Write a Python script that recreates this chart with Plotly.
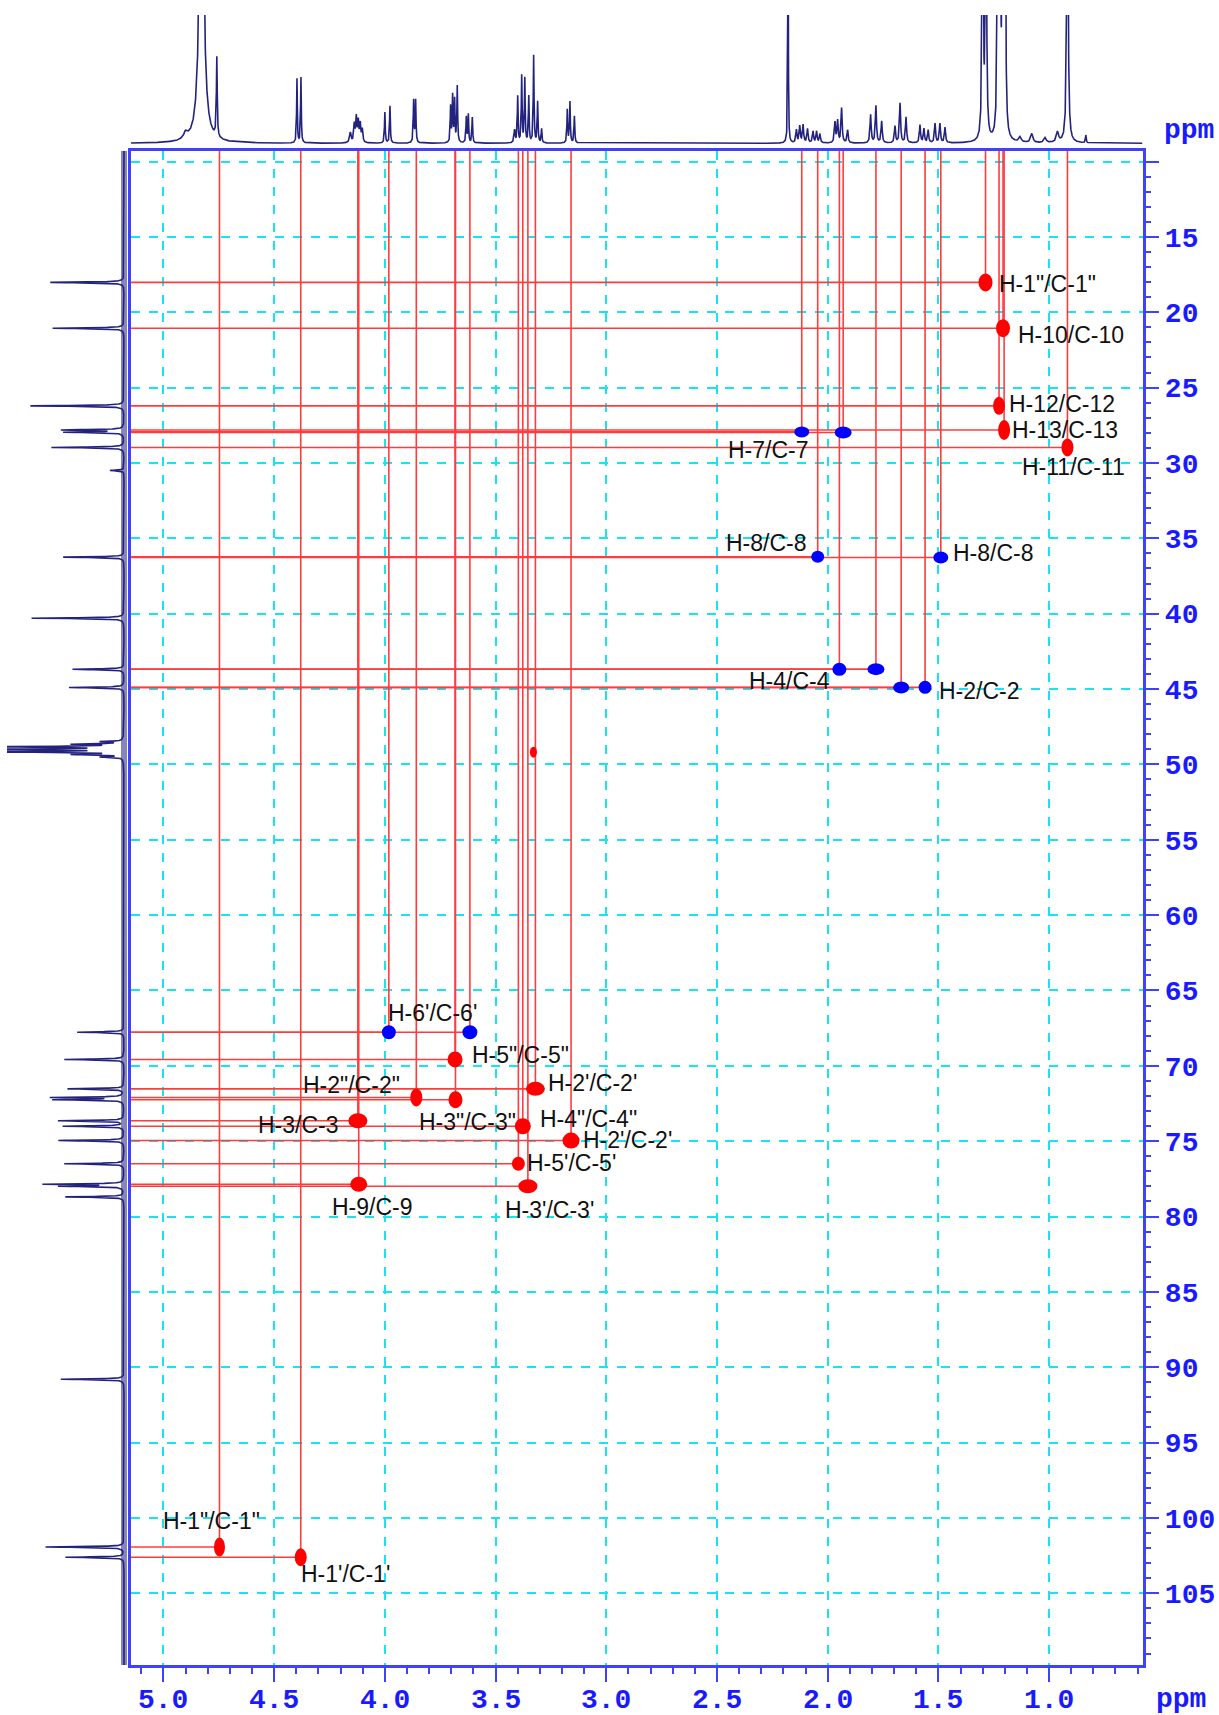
import numpy as np
import plotly.graph_objects as go

# ---------------------------------------------------------------------------
# Spectral windows (ppm)
# ---------------------------------------------------------------------------
H_RANGE = [5.148, 0.578]     # F2, 1H
C_RANGE = [109.76, 9.28]     # F1, 13C

# ---------------------------------------------------------------------------
# 1H projection (top trace): shift, relative height, half width
# ---------------------------------------------------------------------------
h1_shift = [4.900, 4.828, 4.759, 4.397, 4.379,
            4.156, 4.138, 4.129, 4.120, 4.111, 4.102,
            4.000, 3.977, 3.870, 3.861,
            3.703, 3.694, 3.685, 3.673, 3.632, 3.623, 3.605,
            3.414, 3.400, 3.382, 3.368, 3.350, 3.328, 3.310, 3.292,
            3.176, 3.164, 3.144,
            2.179, 2.141, 2.126, 2.111, 2.091, 2.066, 2.050, 2.035,
            1.967, 1.955, 1.937, 1.910,
            1.806, 1.782, 1.756,
            1.696, 1.673, 1.646,
            1.583, 1.565, 1.546, 1.515, 1.493, 1.470,
            1.300, 1.285, 1.232, 1.222, 1.209, 1.199,
            1.131, 1.078, 1.018, 0.962, 0.917, 0.834]
h1_height = [0.05, 3.0, 0.62, 0.50, 0.51,
             0.08, 0.14, 0.19, 0.16, 0.14, 0.10,
             0.24, 0.29, 0.33, 0.33,
             0.28, 0.36, 0.33, 0.44, 0.20, 0.22, 0.20,
             0.10, 0.36, 0.52, 0.50, 0.36, 0.68, 0.32, 0.11,
             0.26, 0.32, 0.21,
             2.5, 0.10, 0.13, 0.14, 0.11, 0.09, 0.09, 0.07,
             0.16, 0.17, 0.27, 0.10,
             0.22, 0.29, 0.17,
             0.13, 0.31, 0.20,
             0.14, 0.11, 0.10, 0.15, 0.15, 0.12,
             3.0, 3.0, 2.5, 3.0, 3.0, 3.0,
             0.04, 0.07, 0.04, 0.08, 3.0, 0.06]
h1_hwhm = [0.010, 0.0097, 0.0022, 0.0018, 0.0018,
           0.004, 0.003, 0.003, 0.003, 0.003, 0.003,
           0.002, 0.002, 0.002, 0.002,
           0.002, 0.002, 0.002, 0.002, 0.002, 0.002, 0.002,
           0.003, 0.002, 0.002, 0.002, 0.002, 0.002, 0.002, 0.002,
           0.002, 0.002, 0.002,
           0.0012, 0.003, 0.003, 0.003, 0.003, 0.003, 0.003, 0.003,
           0.003, 0.003, 0.003, 0.003,
           0.003, 0.003, 0.003,
           0.003, 0.003, 0.003,
           0.003, 0.003, 0.003, 0.003, 0.003, 0.003,
           0.0025, 0.0025, 0.0025, 0.0025, 0.0025, 0.0025,
           0.006, 0.006, 0.006, 0.006, 0.003, 0.002]

# ---------------------------------------------------------------------------
# 13C projection (left trace): shift, relative height
# ---------------------------------------------------------------------------
c13_shift = [18.02, 21.06, 26.21, 27.81, 27.96, 28.97, 30.5, 36.25, 40.3,
             43.69, 44.90,
             48.49, 48.66, 48.83, 49.00, 49.17, 49.34, 49.51,
             67.77, 69.58, 71.53, 72.10, 72.25, 73.65, 74.01, 74.96, 76.50,
             77.86, 77.99, 78.70, 90.80, 101.93, 102.61]
c13_height = [0.63, 0.61, 0.80, 0.52, 0.50, 0.62, 0.12, 0.52, 0.79,
              0.44, 0.47,
              0.18, 0.40, 1.20, 1.40, 1.20, 0.40, 0.18,
              0.40, 0.51, 0.48, 0.61, 0.59, 0.56, 0.52, 0.56, 0.51,
              0.67, 0.53, 0.50, 0.54, 0.67, 0.50]

# ---------------------------------------------------------------------------
# HSQC cross peaks (1H ppm, 13C ppm)
# ---------------------------------------------------------------------------
red_h = [1.287, 1.208, 1.226, 1.203, 0.917,
         3.683, 3.320, 3.858, 3.681, 4.122, 3.377, 3.159, 3.397, 4.118, 3.354,
         4.747, 4.380]
red_c = [18.02, 21.06, 26.21, 27.81, 28.97,
         69.58, 71.53, 72.10, 72.25, 73.65, 74.01, 74.96, 76.50, 77.86, 77.99,
         101.93, 102.61]
blue_h = [2.117, 1.930, 2.045, 1.489, 1.947, 1.782, 1.668, 1.560, 3.982, 3.616]
blue_c = [27.94, 27.98, 36.22, 36.27, 43.69, 43.68, 44.90, 44.89, 67.77, 67.77]

# residual solvent (CD3OD) cross peak
solvent_h = [3.329]
solvent_c = [49.19]

# Contour footprint of each cross peak in pixels (width, height)
red_size = [(14, 18), (14, 18), (12, 18), (12, 20), (12, 18),
            (15, 16), (19, 14), (12, 18), (14, 17), (19, 15), (16, 16), (17, 16),
            (13, 14), (17, 15), (19, 14),
            (11, 19), (12, 18)]
blue_size = [(15, 11), (17, 12), (13, 12), (15, 12), (14, 13), (17, 12),
             (16, 12), (13, 13), (14, 14), (15, 14)]
solvent_size = [(7, 11)]

# ---------------------------------------------------------------------------
# Assignment labels: text, 1H, 13C, anchor
# ---------------------------------------------------------------------------
label_text = ['H-1"/C-1"', 'H-10/C-10', 'H-12/C-12', 'H-13/C-13', 'H-11/C-11',
              'H-7/C-7', 'H-8/C-8', 'H-8/C-8', 'H-4/C-4', 'H-2/C-2',
              "H-6'/C-6'", 'H-5"/C-5"', "H-2'/C-2'", 'H-2"/C-2"', 'H-3/C-3',
              'H-3"/C-3"', 'H-4"/C-4\'\'', "H-2'/C-2'", "H-5'/C-5'", 'H-9/C-9',
              "H-3'/C-3'", 'H-1"/C-1"', "H-1'/C-1'"]
label_h = [1.232, 1.146, 1.184, 1.172, 1.127,
           2.080, 2.088, 1.437, 1.985, 1.500,
           3.787, 3.610, 3.268, 4.152, 4.202,
           3.625, 3.306, 3.108, 3.364, 4.057,
           3.256, 4.785, 4.177]
label_c = [18.1, 21.5, 26.1, 27.8, 30.3,
           29.15, 35.3, 36.0, 44.5, 45.15,
           66.5, 69.28, 71.15, 71.3, 73.95,
           73.7, 73.5, 74.9, 76.45, 79.4,
           79.55, 100.2, 103.75]
label_anchor = ['left', 'left', 'left', 'left', 'left',
                'right', 'right', 'left', 'right', 'left',
                'center', 'left', 'left', 'center', 'right',
                'center', 'left', 'left', 'left', 'center',
                'center', 'center', 'center']

# Axis tick labels
x_ticks = [5.0, 4.5, 4.0, 3.5, 3.0, 2.5, 2.0, 1.5, 1.0]
y_ticks = list(range(10, 110, 5))

# ---------------------------------------------------------------------------
# Page geometry
# ---------------------------------------------------------------------------
W, H = 1219, 1715
MAIN_X = (130.7, 1142.5)      # px, left/right of the 2D frame
MAIN_Y = (150.7, 1665.0)      # px, top/bottom of the 2D frame
TOP_Y = (15.0, 150.0)         # px, 1H projection band
LEFT_X = (7.0, 130.0)         # px, 13C projection band
X_LABEL_Y = 1700.0            # px, centre line of the 1H tick labels

AXIS_BLUE = '#4040ff'
LABEL_BLUE = '#1a1aff'
GRID_CYAN = '#19e3f0'
CROSS_RED = '#ff3c3c'
SPEC_NAVY = '#23237e'

px_per_h = (MAIN_X[1] - MAIN_X[0]) / (H_RANGE[0] - H_RANGE[1])
px_per_c = (MAIN_Y[1] - MAIN_Y[0]) / (C_RANGE[0] - C_RANGE[1])


def lorentz_sum(axis, centers, heights, widths):
    out = np.zeros_like(axis)
    for c, a, g in zip(centers, heights, widths):
        out += a * g * g / ((axis - c) ** 2 + g * g)
    return out


# 1H projection trace
h_axis = np.union1d(np.arange(H_RANGE[1], H_RANGE[0], 0.0005), h1_shift)
h_int = lorentz_sum(h_axis, h1_shift, h1_height, h1_hwhm)

# 13C projection trace
c_axis = np.union1d(np.arange(C_RANGE[1], C_RANGE[0], 0.005), c13_shift)
c_int = lorentz_sum(c_axis, c13_shift, c13_height, [0.03] * len(c13_shift))

fig = go.Figure()

# 1H projection
fig.add_trace(go.Scatter(x=h_axis, y=h_int, mode='lines',
                         line=dict(color=SPEC_NAVY, width=1.6),
                         xaxis='x2', yaxis='y2', hoverinfo='skip'))

# 13C projection: noisy baseline band, then the peaks
fig.add_trace(go.Scatter(x=[0, 0], y=[C_RANGE[1], C_RANGE[0]], mode='lines',
                         line=dict(color='rgba(35,35,126,0.55)', width=6),
                         xaxis='x3', yaxis='y3', hoverinfo='skip'))
fig.add_trace(go.Scatter(x=c_int, y=c_axis, mode='lines',
                         line=dict(color=SPEC_NAVY, width=1.6),
                         xaxis='x3', yaxis='y3', hoverinfo='skip'))

# Correlation guide lines from every cross peak to the projections
all_h = red_h + blue_h
all_c = red_c + blue_c
hx, hy, vx, vy = [], [], [], []
for ph, pc in zip(all_h, all_c):
    hx += [H_RANGE[0], ph, None]
    hy += [pc, pc, None]
    vx += [ph, ph, None]
    vy += [pc, C_RANGE[1], None]
fig.add_trace(go.Scatter(x=hx, y=hy, mode='lines',
                         line=dict(color=CROSS_RED, width=1.6),
                         hoverinfo='skip'))
fig.add_trace(go.Scatter(x=vx, y=vy, mode='lines',
                         line=dict(color=CROSS_RED, width=1.6),
                         hoverinfo='skip'))

# Cross-peak contours drawn as filled ellipses
shapes = []


def add_spots(hs, cs, sizes, color):
    for ph, pc, (wpx, hpx) in zip(hs, cs, sizes):
        dx = wpx / 2 / px_per_h
        dy = hpx / 2 / px_per_c
        shapes.append(dict(type='circle', xref='x', yref='y', layer='above',
                           x0=ph - dx, x1=ph + dx, y0=pc - dy, y1=pc + dy,
                           fillcolor=color, line=dict(width=0)))


add_spots(red_h, red_c, red_size, '#ff0000')
add_spots(solvent_h, solvent_c, solvent_size, '#ff0000')
add_spots(blue_h, blue_c, blue_size, '#0000ff')

annotations = []
for t, lh, lc, an in zip(label_text, label_h, label_c, label_anchor):
    annotations.append(dict(x=lh, y=lc, xref='x', yref='y', text=t,
                            showarrow=False, xanchor=an, yanchor='middle',
                            borderpad=0,
                            font=dict(family='Arial, Liberation Sans, sans-serif',
                                      size=23, color='#111111')))

tick_font = dict(family='Liberation Mono, Courier New, monospace', size=28,
                 color=LABEL_BLUE, weight='bold')

# 1H tick labels, set just under the long ticks
for v in x_ticks:
    annotations.append(dict(x=v, y=1 - X_LABEL_Y / H, xref='x', yref='paper',
                            text=f'{v:.1f}', showarrow=False, xanchor='center',
                            yanchor='middle', font=tick_font))

for px, py in [(1189, 131), (1181, 1699)]:
    annotations.append(dict(x=px / W, y=1 - py / H, xref='paper', yref='paper',
                            text='ppm', showarrow=False, xanchor='center',
                            yanchor='middle', font=tick_font))

main_xdom = [MAIN_X[0] / W, MAIN_X[1] / W]
main_ydom = [1 - MAIN_Y[1] / H, 1 - MAIN_Y[0] / H]

fig.update_layout(
    width=W, height=H,
    margin=dict(l=0, r=0, t=0, b=0, autoexpand=False),
    paper_bgcolor='white', plot_bgcolor='white',
    showlegend=False,
    shapes=shapes,
    annotations=annotations,
    xaxis=dict(
        domain=main_xdom, range=H_RANGE, anchor='y', automargin=False,
        tickvals=x_ticks, showticklabels=False,
        ticks='outside', ticklen=14, tickwidth=2, tickcolor=AXIS_BLUE,
        minor=dict(dtick=0.1, tick0=0, ticks='outside', ticklen=6,
                   tickwidth=1.5, tickcolor=AXIS_BLUE, showgrid=False),
        showline=True, linecolor=AXIS_BLUE, linewidth=2.5, mirror=True,
        showgrid=True, gridcolor=GRID_CYAN, griddash='dash', gridwidth=1.5,
        zeroline=False,
    ),
    yaxis=dict(
        domain=main_ydom, range=C_RANGE, anchor='x', side='right',
        automargin=False,
        tickvals=y_ticks, ticktext=[''] + [str(v) for v in y_ticks[1:]],
        ticks='outside', ticklen=14, tickwidth=2, tickcolor=AXIS_BLUE,
        minor=dict(dtick=1, tick0=0, ticks='outside', ticklen=6,
                   tickwidth=1.5, tickcolor=AXIS_BLUE, showgrid=False),
        showline=True, linecolor=AXIS_BLUE, linewidth=2.5, mirror=True,
        showgrid=True, gridcolor=GRID_CYAN, griddash='dash', gridwidth=1.5,
        zeroline=False, tickfont=tick_font,
    ),
    xaxis2=dict(domain=main_xdom, range=H_RANGE, anchor='y2', visible=False),
    yaxis2=dict(domain=[1 - TOP_Y[1] / H, 1 - TOP_Y[0] / H],
                range=[-0.052, 1.0], anchor='x2', visible=False),
    xaxis3=dict(domain=[LEFT_X[0] / W, LEFT_X[1] / W], range=[1.0, -0.0513],
                anchor='y3', visible=False),
    yaxis3=dict(domain=main_ydom, range=C_RANGE, anchor='x3', visible=False),
)

fig.write_html('out.html')
